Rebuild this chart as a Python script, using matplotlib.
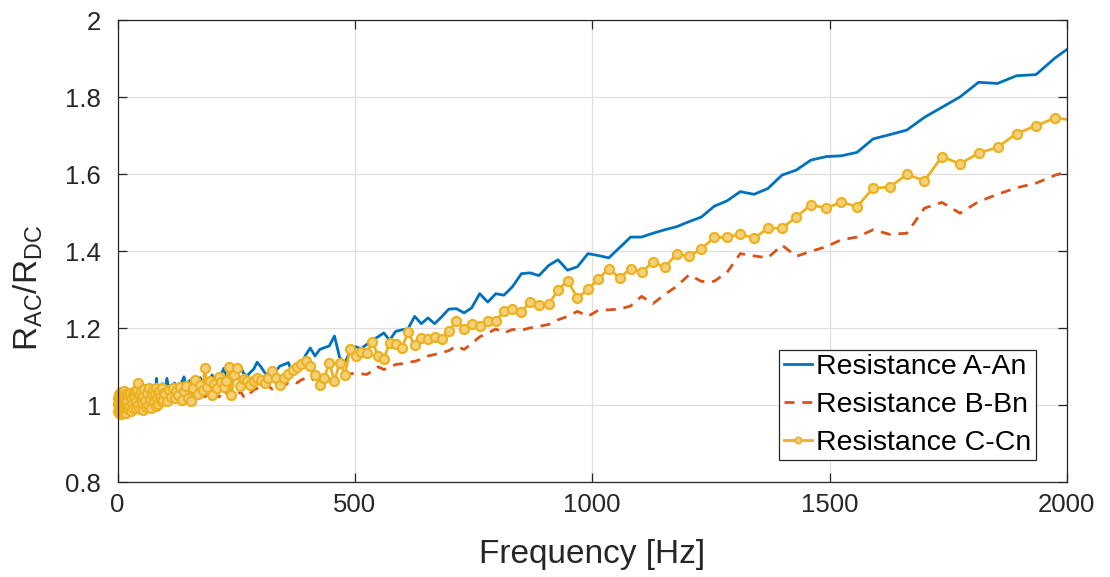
import matplotlib
matplotlib.use("Agg")
import matplotlib.pyplot as plt
from matplotlib.lines import Line2D
from matplotlib.ticker import FuncFormatter

# Measurement frequencies [Hz]
freq = [
    1, 1.5, 2, 2.5, 3, 3.5, 4, 4.5, 5, 5.5, 6, 6.5, 7, 7.5, 8, 8.5, 9, 9.5,
    10, 10.5, 11, 11.5, 12, 12.5, 13, 13.5, 14, 14.5, 15, 15.5, 16, 16.5,
    17, 17.5, 18, 18.5, 19, 19.5,
    20, 21.5, 23, 24.5, 26, 27.5, 29, 30.5, 32, 33.5, 35, 36.5, 38, 39.5,
    41, 42.5, 44, 45.5, 47, 48.5, 50, 51.5, 53, 54.5, 56, 58, 60, 62, 64,
    66, 68, 70, 72, 74, 76, 78, 80, 82, 84, 86, 88, 90, 92, 94, 96, 98,
    100, 104, 108, 112, 116, 120, 124, 128, 132, 136, 140, 144, 149, 154,
    159, 164, 169, 174, 179, 184, 189, 194, 199, 204, 209, 214, 219, 224,
    229, 234, 240,
    246, 252, 259, 266, 273, 280, 287, 294, 302, 310, 318, 326, 334, 342,
    351, 360, 369, 378, 387, 396, 406, 416, 426, 436, 446, 457, 468, 479, 490,
    502, 513, 525, 537, 549, 561, 573, 586, 599, 612, 626, 640, 654, 668,
    683, 698, 714, 730, 746, 763, 780, 797, 814, 832, 851, 869, 888, 908,
    928, 948, 969, 991, 1013, 1035, 1058, 1081, 1104, 1128, 1153, 1178,
    1204, 1230, 1257, 1284, 1312, 1341, 1370, 1400, 1430, 1461, 1493, 1525,
    1558, 1592, 1627, 1663, 1700, 1737, 1775, 1814, 1854, 1894, 1935, 1976,
    2018,
]

# R_AC / R_DC ratio of each conductor
ratio_a = [
    1.000, 0.994, 1.010, 0.996, 1.014, 0.990, 1.006, 1.000, 1.016, 0.994,
    1.008, 0.992, 1.012, 1.004, 0.996, 1.016, 1.000, 1.010, 1.004, 0.998,
    1.014, 1.006, 0.996, 1.018, 1.008, 1.000, 1.012, 1.004, 1.020, 1.002,
    1.010, 1.016, 1.004, 1.012, 1.006, 1.020, 1.008, 1.014,
    1.006, 1.002, 1.014, 1.008, 1.020, 1.004, 1.016, 1.010, 1.024, 1.012,
    1.018, 1.028, 1.014, 1.030, 1.020, 1.026, 1.018, 1.034, 1.024, 1.030,
    1.022, 1.038, 1.028, 1.034, 1.026, 1.040, 1.030, 1.036, 1.046, 1.030,
    1.040, 1.050, 1.034, 1.044, 1.036, 1.052, 1.040, 1.070, 1.036, 1.044,
    1.032, 1.048, 1.040, 1.056, 1.038, 1.046,
    1.044, 1.070, 1.040, 1.052, 1.046, 1.058, 1.044, 1.056, 1.050, 1.062,
    1.074, 1.052, 1.060, 1.066, 1.054, 1.068, 1.060, 1.072, 1.062, 1.058,
    1.070, 1.064, 1.079, 1.066, 1.074, 1.070, 1.082, 1.096, 1.078, 1.088,
    1.080,
    1.085, 1.094, 1.100, 1.082, 1.076, 1.086, 1.094, 1.112, 1.100, 1.085,
    1.074, 1.067, 1.090, 1.102, 1.106, 1.111, 1.080, 1.092, 1.106, 1.130,
    1.149, 1.128, 1.145, 1.150, 1.154, 1.180, 1.124, 1.111, 1.140,
    1.152, 1.147, 1.158, 1.170, 1.178, 1.188, 1.169, 1.192, 1.196, 1.199,
    1.231, 1.212, 1.227, 1.212, 1.230, 1.250, 1.251, 1.240, 1.253, 1.290,
    1.268, 1.290, 1.286, 1.308, 1.342, 1.344, 1.337, 1.363, 1.378, 1.351,
    1.360, 1.394, 1.389, 1.383, 1.410, 1.437, 1.437, 1.447, 1.456, 1.464,
    1.477, 1.489, 1.517, 1.531, 1.555, 1.548, 1.563, 1.598, 1.611, 1.637,
    1.646, 1.648, 1.657, 1.692, 1.703, 1.715, 1.748, 1.774, 1.801, 1.839,
    1.836, 1.856, 1.859, 1.903, 1.940,
]

ratio_b = [
    1.000, 0.996, 1.006, 0.992, 1.008, 0.996, 1.004, 0.998, 1.010, 0.994,
    1.006, 0.990, 1.008, 1.000, 0.996, 1.010, 0.998, 1.004, 1.002, 0.996,
    1.008, 1.000, 0.994, 1.010, 1.004, 0.998, 1.008, 1.002, 1.012, 0.998,
    1.006, 1.010, 1.000, 1.008, 1.004, 1.012, 1.002, 1.008,
    1.002, 0.996, 1.008, 1.000, 1.010, 0.998, 1.006, 1.012, 1.002, 1.014,
    1.008, 1.004, 1.016, 1.010, 1.006, 1.018, 1.012, 1.008, 1.020, 1.014,
    1.010, 1.022, 1.016, 1.012, 1.024, 1.018, 1.014, 1.026, 1.020, 1.016,
    1.028, 1.022, 1.018, 1.024, 1.012, 1.026, 1.020, 1.030, 1.016, 1.024,
    1.028, 1.020, 1.032, 1.018, 1.026, 1.022,
    1.022, 1.014, 1.005, 1.018, 1.024, 1.016, 1.020, 1.008, 1.000, 1.012,
    1.004, 1.018, 1.026, 1.020, 1.030, 1.036, 1.044, 1.034, 1.028, 1.022,
    1.030, 1.036, 1.028, 1.034, 1.026, 1.022, 1.030, 1.038, 1.032, 1.040,
    1.034,
    1.030, 1.025, 1.036, 1.022, 1.020, 1.032, 1.040, 1.044, 1.038, 1.046,
    1.050, 1.042, 1.048, 1.055, 1.052, 1.058, 1.062, 1.058, 1.066, 1.070,
    1.064, 1.070, 1.075, 1.072, 1.068, 1.067, 1.078, 1.085, 1.082,
    1.083, 1.082, 1.080, 1.090, 1.100, 1.093, 1.098, 1.106, 1.108, 1.112,
    1.114, 1.120, 1.128, 1.132, 1.137, 1.142, 1.154, 1.145, 1.160, 1.178,
    1.188, 1.198, 1.188, 1.197, 1.195, 1.201, 1.205, 1.210, 1.222, 1.231,
    1.244, 1.231, 1.247, 1.248, 1.250, 1.258, 1.283, 1.264, 1.288, 1.309,
    1.339, 1.322, 1.322, 1.345, 1.394, 1.388, 1.383, 1.416, 1.387, 1.400,
    1.412, 1.430, 1.437, 1.456, 1.444, 1.447, 1.512, 1.527, 1.499, 1.529,
    1.548, 1.565, 1.577, 1.598, 1.612,
]

ratio_c = [
    1.004, 0.986, 1.020, 0.994, 1.030, 0.980, 1.012, 0.998, 1.026, 0.988,
    1.016, 0.978, 1.034, 1.002, 0.984, 1.024, 0.992, 1.010, 1.032, 0.982,
    1.018, 1.000, 0.990, 1.028, 1.006, 0.984, 1.036, 0.996, 1.014, 0.988,
    1.022, 1.004, 0.980, 1.030, 0.994, 1.016, 1.000, 1.026,
    1.012, 0.990, 1.026, 0.998, 1.032, 0.986, 1.018, 1.004, 1.030, 0.994,
    1.022, 1.038, 1.010, 0.992, 1.040, 1.057, 1.002, 1.028, 0.990, 1.020,
    1.036, 1.006, 0.988, 1.024, 1.042, 1.010, 0.996, 1.032, 1.000, 1.046,
    1.016, 0.994, 1.026, 1.040, 1.008, 1.030, 0.998, 1.044, 1.018, 1.004,
    1.036, 1.022, 1.010, 1.046, 1.014, 1.032,
    1.030, 1.012, 1.040, 1.022, 1.046, 1.018, 1.036, 1.026, 1.048, 1.014,
    1.038, 1.050, 1.018, 1.010, 1.044, 1.066, 1.030, 1.052, 1.040, 1.096,
    1.048, 1.062, 1.027, 1.056, 1.044, 1.074, 1.060, 1.048, 1.064, 1.100,
    1.027,
    1.080, 1.098, 1.050, 1.068, 1.063, 1.054, 1.062, 1.072, 1.066, 1.059,
    1.070, 1.089, 1.072, 1.054, 1.072, 1.082, 1.092, 1.100, 1.108, 1.115,
    1.102, 1.080, 1.054, 1.072, 1.111, 1.063, 1.111, 1.080, 1.145,
    1.128, 1.138, 1.135, 1.164, 1.128, 1.119, 1.162, 1.158, 1.148, 1.190,
    1.156, 1.175, 1.171, 1.177, 1.173, 1.193, 1.218, 1.199, 1.212, 1.207,
    1.218, 1.220, 1.244, 1.251, 1.243, 1.268, 1.260, 1.262, 1.299, 1.324,
    1.279, 1.301, 1.328, 1.355, 1.331, 1.355, 1.346, 1.372, 1.359, 1.393,
    1.387, 1.406, 1.436, 1.436, 1.445, 1.434, 1.460, 1.460, 1.489, 1.521,
    1.512, 1.528, 1.516, 1.564, 1.567, 1.600, 1.583, 1.646, 1.627, 1.655,
    1.670, 1.706, 1.726, 1.747, 1.739,
]

assert len(freq) == len(ratio_a) == len(ratio_b) == len(ratio_c)

labels = ["Resistance A-An", "Resistance B-Bn", "Resistance C-Cn"]
x_ticks = [0, 500, 1000, 1500, 2000]
y_ticks = [0.8, 1.0, 1.2, 1.4, 1.6, 1.8, 2.0]

plt.rcParams["font.family"] = ["Liberation Sans", "DejaVu Sans"]
plt.rcParams["mathtext.fontset"] = "custom"
plt.rcParams["mathtext.rm"] = "Liberation Sans"

blue = "#0072BD"
red = "#D95319"
yellow = "#EDB120"
yellow_face = "#F4D07A"
ink = "#262626"

fig = plt.figure(figsize=(11.10, 5.77), dpi=100)
ax = fig.add_axes([0.1059, 0.1641, 0.8552, 0.8007])

x_lo, x_hi = 0, 2000

ax.plot(freq, ratio_a, color=blue, lw=2.0)
ax.plot(freq, ratio_b, color=red, lw=2.0, linestyle=(0, (3.6, 2.8)))
# connecting line is clipped to the axes; markers inside the x range are
# drawn whole, even where they overhang the frame
ax.plot(freq, ratio_c, color=yellow, lw=2.0)
f_in = [f for f in freq if x_lo <= f <= x_hi]
c_in = [c for f, c in zip(freq, ratio_c) if x_lo <= f <= x_hi]
ax.plot(f_in, c_in, ls="none", marker="o", markersize=6.6,
        markeredgewidth=1.5, markeredgecolor=yellow,
        markerfacecolor=yellow_face, clip_on=False, zorder=2.1)

ax.set_xlim(x_lo, x_hi)
ax.set_ylim(0.8, 2.0)
ax.set_xticks(x_ticks)
ax.set_yticks(y_ticks)
ax.yaxis.set_major_formatter(FuncFormatter(lambda v, p: f"{v:g}"))

ax.grid(True, color="#DFDFDF", linewidth=0.9)
ax.set_axisbelow(True)
for sp in ax.spines.values():
    sp.set_color(ink)
    sp.set_linewidth(0.9)
    sp.set_zorder(3)
ax.tick_params(direction="in", length=6.5, width=0.9, colors=ink,
               labelsize=18.5, top=True, right=True)
ax.tick_params(axis="x", pad=8)
ax.tick_params(axis="y", pad=12)

ax.set_xlabel("Frequency [Hz]", fontsize=24, color=ink)
ax.set_ylabel(r"R$_{\mathregular{AC}}$/R$_{\mathregular{DC}}$",
              fontsize=24, color=ink)
ax.xaxis.set_label_coords(0.5, -0.122)
ax.yaxis.set_label_coords(-0.076, 0.42)

handles = [
    Line2D([], [], color=blue, lw=2.0),
    Line2D([], [], color=red, lw=2.0, linestyle=(0, (3.6, 2.8))),
    Line2D([], [], color=yellow, lw=2.0, marker="o", markersize=4.5,
           markeredgewidth=1.2, markeredgecolor=yellow,
           markerfacecolor=yellow_face),
]
leg = ax.legend(handles, labels, loc="lower right",
                bbox_to_anchor=(0.9673, 0.048), borderaxespad=0,
                fontsize=20.5, frameon=True, fancybox=False, edgecolor=ink,
                framealpha=1, handlelength=1.0, handletextpad=0.15,
                borderpad=0.15, labelspacing=0.42)
leg.get_frame().set_linewidth(0.9)
leg.set_zorder(5)

fig.savefig("out.png", dpi=100)
